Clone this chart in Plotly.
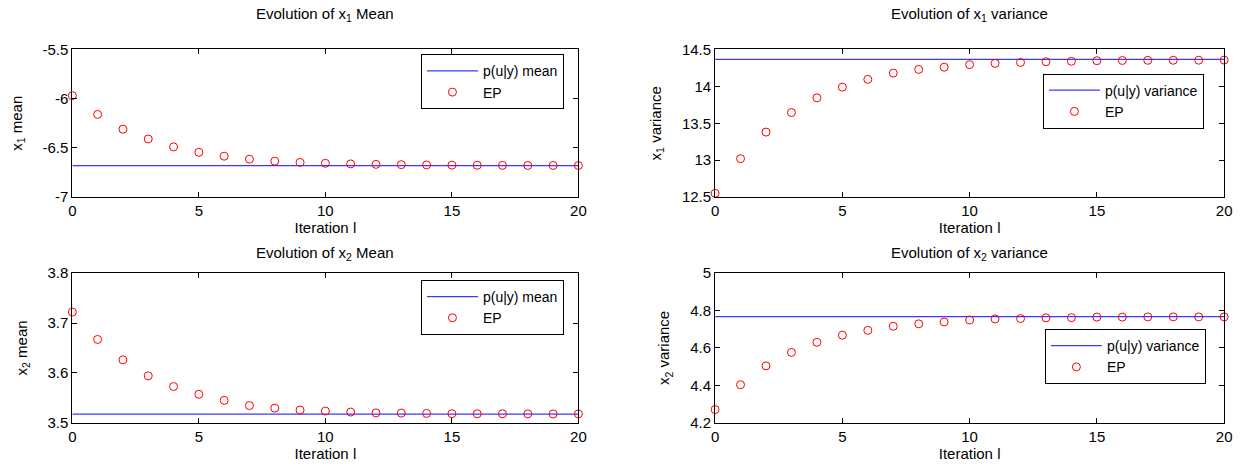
import plotly.graph_objects as go

# Iteration index shared by every panel
iterations = list(range(21))

# EP estimates per iteration
x1_mean_ep = [-5.97, -6.16, -6.31, -6.41, -6.49, -6.545, -6.585, -6.615, -6.635,
              -6.648, -6.657, -6.663, -6.668, -6.671, -6.674, -6.676, -6.677,
              -6.678, -6.679, -6.679, -6.68]
x1_var_ep = [12.55, 13.02, 13.38, 13.645, 13.845, 13.99, 14.095, 14.18, 14.23,
             14.26, 14.295, 14.312, 14.325, 14.335, 14.34, 14.348, 14.351,
             14.353, 14.354, 14.355, 14.356]
x2_mean_ep = [3.722, 3.667, 3.626, 3.594, 3.5725, 3.557, 3.5447, 3.5343, 3.5291,
              3.5253, 3.5233, 3.5213, 3.5196, 3.5192, 3.5185, 3.518, 3.5178,
              3.5177, 3.5176, 3.5175, 3.5175]
x2_var_ep = [4.27, 4.403, 4.504, 4.576, 4.63, 4.668, 4.694, 4.716, 4.729, 4.739,
             4.7495, 4.755, 4.757, 4.761, 4.762, 4.765, 4.765, 4.766, 4.766,
             4.766, 4.766]

# Exact posterior moments p(u|y)
x1_mean_exact = -6.68
x1_var_exact = 14.365
x2_mean_exact = 3.5172
x2_var_exact = 4.767

# Axis tick values and labels
x_ticks = [0, 5, 10, 15, 20]
x1_mean_ticks = [-7, -6.5, -6, -5.5]
x1_mean_ticklabels = ["-7", "-6.5", "-6", "-5.5"]
x1_var_ticks = [12.5, 13, 13.5, 14, 14.5]
x1_var_ticklabels = ["12.5", "13", "13.5", "14", "14.5"]
x2_mean_ticks = [3.5, 3.6, 3.7, 3.8]
x2_mean_ticklabels = ["3.5", "3.6", "3.7", "3.8"]
x2_var_ticks = [4.2, 4.4, 4.6, 4.8, 5.0]
x2_var_ticklabels = ["4.2", "4.4", "4.6", "4.8", "5"]

W, H = 1247, 475
FONT = "Liberation Sans, Arial, sans-serif"
FS = 15
LEG_FS = 14

panels = [
    dict(ep=x1_mean_ep, exact=x1_mean_exact, exact_name="p(u|y) mean",
         title="Evolution of x<sub>1</sub> Mean", ylabel="x<sub>1</sub> mean",
         yticks=x1_mean_ticks, yticklabels=x1_mean_ticklabels,
         px=(69, 580), py=(42, 195), leg=(421, 47), tshift=23),
    dict(ep=x1_var_ep, exact=x1_var_exact, exact_name="p(u|y) variance",
         title="Evolution of x<sub>1</sub> variance", ylabel="x<sub>1</sub> variance",
         yticks=x1_var_ticks, yticklabels=x1_var_ticklabels,
         px=(718, 1232), py=(42, 195), leg=(1049, 67), tshift=23),
    dict(ep=x2_mean_ep, exact=x2_mean_exact, exact_name="p(u|y) mean",
         title="Evolution of x<sub>2</sub> Mean", ylabel="x<sub>2</sub> mean",
         yticks=x2_mean_ticks, yticklabels=x2_mean_ticklabels,
         px=(69, 580), py=(274, 429), leg=(421, 281), tshift=8),
    dict(ep=x2_var_ep, exact=x2_var_exact, exact_name="p(u|y) variance",
         title="Evolution of x<sub>2</sub> variance", ylabel="x<sub>2</sub> variance",
         yticks=x2_var_ticks, yticklabels=x2_var_ticklabels,
         px=(718, 1232), py=(274, 429), leg=(1051, 332), tshift=8),
]

fig = go.Figure()
layout = dict(
    width=W, height=H,
    margin=dict(l=0, r=0, t=0, b=0),
    paper_bgcolor="white", plot_bgcolor="white",
    font=dict(family=FONT, size=FS, color="black"),
    showlegend=True,
    annotations=[],
)

for i, p in enumerate(panels, start=1):
    sfx = "" if i == 1 else str(i)
    xa, ya = "x" + sfx, "y" + sfx
    leg = "legend" + sfx

    fig.add_trace(go.Scatter(
        x=[iterations[0], iterations[-1]], y=[p["exact"], p["exact"]],
        mode="lines", name=p["exact_name"],
        line=dict(color="#3a3aff", width=1.2),
        xaxis=xa, yaxis=ya, legend=leg,
    ))
    fig.add_trace(go.Scatter(
        x=iterations, y=p["ep"], mode="markers", name="EP",
        marker=dict(symbol="circle-open", size=8, color="#ff0000",
                    line=dict(width=1, color="#ff0000")),
        xaxis=xa, yaxis=ya, legend=leg, cliponaxis=False,
    ))

    xdom = [p["px"][0] / W, p["px"][1] / W]
    ydom = [(H - p["py"][1]) / H, (H - p["py"][0]) / H]
    axis_common = dict(
        showline=True, linecolor="black", linewidth=1, mirror="ticks",
        ticks="inside", ticklen=5, tickcolor="black", tickwidth=1,
        showgrid=False, zeroline=False,
        tickfont=dict(family=FONT, size=FS, color="black"),
    )
    layout["xaxis" + sfx] = dict(
        domain=xdom, anchor=ya, range=[0, 20],
        tickvals=x_ticks, ticktext=[str(v) for v in x_ticks],
        title=dict(text="Iteration l", standoff=4,
                   font=dict(family=FONT, size=FS, color="black")),
        **axis_common,
    )
    layout["yaxis" + sfx] = dict(
        domain=ydom, anchor=xa,
        range=[p["yticks"][0], p["yticks"][-1]],
        tickvals=p["yticks"], ticktext=p["yticklabels"],
        title=dict(text=p["ylabel"], standoff=16,
                   font=dict(family=FONT, size=FS, color="black")),
        **axis_common,
    )
    layout[leg] = dict(
        x=p["leg"][0] / W, y=(H - p["leg"][1]) / H,
        xanchor="left", yanchor="top",
        bgcolor="white", bordercolor="black", borderwidth=1,
        font=dict(family=FONT, size=LEG_FS, color="black"),
        itemwidth=51, tracegroupgap=0,
    )
    layout["annotations"].append(dict(
        text=p["title"], xref="paper", yref="paper",
        x=(xdom[0] + xdom[1]) / 2, y=ydom[1],
        xanchor="center", yanchor="bottom", yshift=p["tshift"], showarrow=False,
        font=dict(family=FONT, size=FS, color="black"),
    ))

fig.update_layout(**layout)
fig.write_html("out.html")
